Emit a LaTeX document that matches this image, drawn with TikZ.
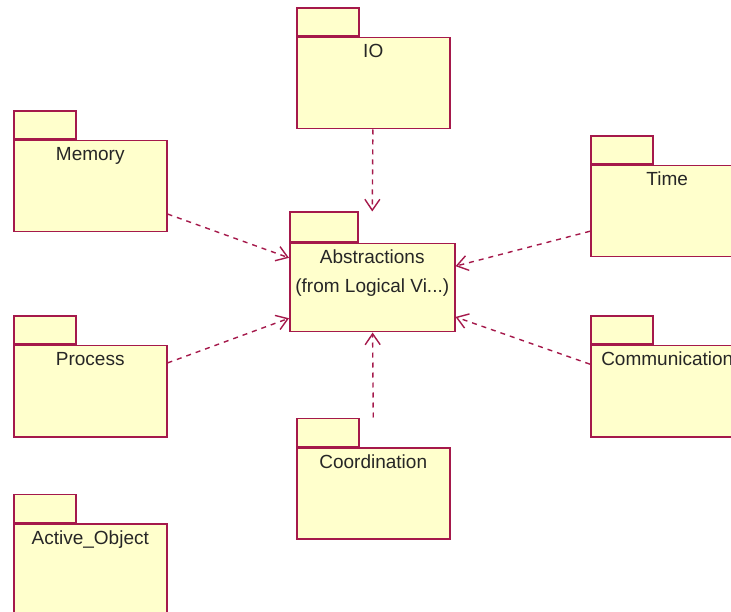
\documentclass[tikz,border=0pt]{standalone}
\usepackage{fontspec}
\setmainfont{Liberation Sans}
\usetikzlibrary{arrows.meta,positioning}
\definecolor{pkgline}{RGB}{165,25,75}
\definecolor{pkgfill}{RGB}{255,255,204}
\tikzset{
  pkg/.style={draw=pkgline, fill=pkgfill, line width=1.5pt, anchor=north west,
    minimum width=153pt, minimum height=91pt, inner sep=0pt},
  pkgtab/.style={draw=pkgline, fill=pkgfill, line width=1.5pt, anchor=south west,
    minimum width=62pt, minimum height=28pt, inner sep=0pt},
  pkgname/.style={anchor=base, inner sep=0pt, align=center,
    font=\fontsize{19}{29}\selectfont, text=black!85},
  dep/.style={draw=pkgline, line width=1.4pt, dash pattern=on 5pt off 5pt,
    -{Straight Barb[length=11pt,width=15pt]}}
}
\begin{document}
\begin{tikzpicture}[x=1pt,y=-1pt]
\useasboundingbox (0,0) rectangle (731,612);
\clip (0,0) rectangle (731,612);
% packages
\node[pkg] (io) at (296,37) {};
\node[pkgtab] (iotab) at (io.north west) {};
\node[pkgname] (iotxt) at ([yshift=-21pt]io.north) {IO};

\node[pkg] (mem) at (13,140) {};
\node[pkgtab] (memtab) at (mem.north west) {};
\node[pkgname] (memtxt) at ([yshift=-21pt]mem.north) {Memory};

\node[pkg] (proc) at (13,345) {};
\node[pkgtab] (proctab) at (proc.north west) {};
\node[pkgname] (proctxt) at ([yshift=-21pt]proc.north) {Process};

\node[pkg] (act) at (13,523) {};
\node[pkgtab] (acttab) at (act.north west) {};
\node[pkgname] (acttxt) at ([yshift=-21pt]act.north) {Active\_Object};

\node[pkg] (coord) at (296,447) {};
\node[pkgtab] (coordtab) at (coord.north west) {};
\node[pkgname] (coordtxt) at ([yshift=-21pt]coord.north) {Coordination};

\node[pkg] (time) at (590,165) {};
\node[pkgtab] (timetab) at (time.north west) {};
\node[pkgname] (timetxt) at ([yshift=-21pt]time.north) {Time};

\node[pkg] (comm) at (590,345) {};
\node[pkgtab] (commtab) at (comm.north west) {};
\node[pkgname] (commtxt) at ([yshift=-21pt]comm.north) {Communication};

\node[pkg, minimum width=165pt, minimum height=88pt] (abs) at (289,243) {};
\node[pkgtab, minimum width=68pt, minimum height=30pt] (abstab) at (abs.north west) {};
% base of the last line
\node[pkgname] (abstxt) at ([yshift=-50pt]abs.north) {Abstractions\\(from Logical Vi...)};
% dependencies
\draw[dep] (io) -- (abs |- abstab.north);
\draw[dep] (mem) -- (abs);
\draw[dep] (proc) -- (abs);
\draw[dep] (time) -- (abs);
\draw[dep] (comm) -- (abs);
\draw[dep] (coord |- coordtab.north) -- (abs);
\end{tikzpicture}
\end{document}
